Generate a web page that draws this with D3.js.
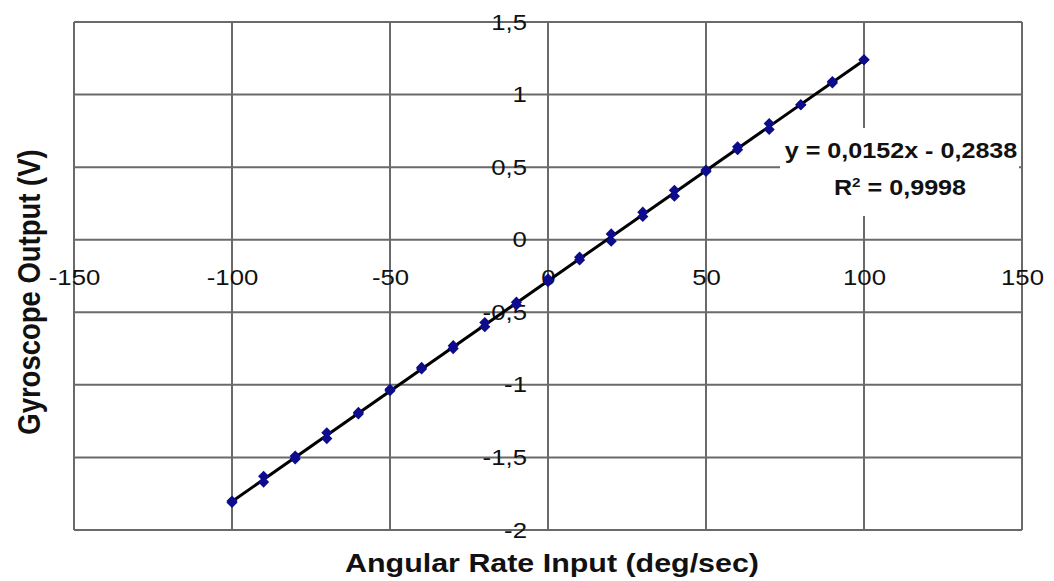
<!DOCTYPE html>
<html>
<head>
<meta charset="utf-8">
<script src="https://cdn.jsdelivr.net/npm/d3@7"></script>
<style>
  html, body { margin: 0; padding: 0; background: #fff; }
  svg text { font-family: "Liberation Sans", Arial, sans-serif; fill: #111; }
</style>
</head>
<body>
<svg id="chart"></svg>
<script>
// angular rate (deg/sec) and gyro output (V), two passes
const rates = [-100, -90, -80, -70, -60, -50, -40, -30, -20, -10, 0, 10, 20, 30, 40, 50, 60, 70, 80, 90, 100];
const runUp = [-1.80, -1.63, -1.49, -1.33, -1.19, -1.03, -0.88, -0.73, -0.57, -0.43, -0.27, -0.12, 0.04, 0.19, 0.34, 0.48, 0.64, 0.80, 0.93, 1.09, 1.24];
const runDown = [-1.81, -1.67, -1.51, -1.37, -1.20, -1.04, -0.89, -0.75, -0.60, -0.45, -0.29, -0.14, -0.01, 0.16, 0.30, 0.47, 0.62, 0.76, 0.93, 1.08, 1.24];

const xTicks = [-150, -100, -50, 0, 50, 100, 150];
const yTicks = [-2, -1.5, -1, -0.5, 0, 0.5, 1, 1.5];

const slope = 0.0152, intercept = -0.2838;
const fitLines = ["y = 0,0152x - 0,2838", "0,9998"];

const width = 1054, height = 581;
const plotLeft = 74, plotRight = 1022, plotTop = 22, plotBottom = 530;
const stretch = 1.17;  // source picture is stretched sideways

const svg = d3.select("#chart")
    .attr("width", width)
    .attr("height", height);

const x = d3.scaleLinear().domain([-150, 150]).range([plotLeft, plotRight]);
const y = d3.scaleLinear().domain([-2, 1.5]).range([plotBottom, plotTop]);

const locale = d3.formatLocale({decimal: ",", thousands: ".", grouping: [3], currency: ["", ""], minus: "-"});
const fmt = locale.format("~g");

const gridColor = "#6a6a6a";

// gridlines
svg.append("g")
    .selectAll("line")
    .data(xTicks)
    .join("line")
    .attr("x1", d => x(d)).attr("x2", d => x(d))
    .attr("y1", plotTop).attr("y2", plotBottom)
    .attr("stroke", gridColor).attr("stroke-width", 2);

svg.append("g")
    .selectAll("line")
    .data(yTicks)
    .join("line")
    .attr("x1", plotLeft).attr("x2", plotRight)
    .attr("y1", d => y(d)).attr("y2", d => y(d))
    .attr("stroke", gridColor).attr("stroke-width", 2);

// white box behind the equation label
svg.append("rect")
    .attr("x", 780).attr("y", 128)
    .attr("width", 239).attr("height", 88)
    .attr("fill", "#fff");

// x axis labels sit under the y=0 line
const xAxis = svg.append("g")
    .attr("transform", `translate(0,${y(0)})`)
    .call(d3.axisBottom(x).tickValues(xTicks).tickSize(0).tickPadding(30).tickFormat(fmt));
xAxis.select(".domain").remove();
xAxis.selectAll("text")
    .attr("font-size", 22)
    .attr("font-family", "Liberation Sans, Arial, sans-serif")
    .attr("fill", "#111")
    .attr("transform", `scale(${stretch},1)`);

// y axis labels left of x=0 line
const yAxis = svg.append("g")
    .attr("transform", `translate(${x(0)},0)`)
    .call(d3.axisLeft(y).tickValues(yTicks).tickSize(0).tickPadding(18).tickFormat(fmt));
yAxis.select(".domain").remove();
yAxis.selectAll("text")
    .attr("font-size", 22)
    .attr("font-family", "Liberation Sans, Arial, sans-serif")
    .attr("fill", "#111")
    .attr("transform", `scale(${stretch},1)`);

// trendline
svg.append("line")
    .attr("x1", x(-100)).attr("y1", y(slope * -100 + intercept))
    .attr("x2", x(100)).attr("y2", y(slope * 100 + intercept))
    .attr("stroke", "#000").attr("stroke-width", 3);

// markers
const diamond = d3.symbol(d3.symbolSquare, 62);
const pts = rates.flatMap((r, i) => [{r, v: runUp[i]}, {r, v: runDown[i]}]);
svg.append("g")
    .selectAll("path")
    .data(pts)
    .join("path")
    .attr("d", diamond)
    .attr("transform", d => `translate(${x(d.r)},${y(d.v)}) rotate(45)`)
    .attr("fill", "#0c0c8c");

// equation label
const eq = svg.append("g").attr("font-weight", "bold").attr("font-size", 21.5);
eq.append("text")
    .attr("transform", `translate(901,158) scale(${stretch},1)`)
    .attr("text-anchor", "middle")
    .text(fitLines[0]);
const r2 = eq.append("text")
    .attr("transform", `translate(900,195) scale(${stretch},1)`)
    .attr("text-anchor", "middle");
r2.append("tspan").text("R");
r2.append("tspan").attr("font-size", 13).attr("dy", -8).text("2");
r2.append("tspan").attr("dy", 8).text(" = " + fitLines[1]);

// axis titles
svg.append("text")
    .attr("transform", `translate(552,572) scale(${stretch},1)`)
    .attr("text-anchor", "middle")
    .attr("font-weight", "bold")
    .attr("font-size", 26)
    .text("Angular Rate Input (deg/sec)");

svg.append("text")
    .attr("transform", `translate(40,292) scale(${stretch},1) rotate(-90)`)
    .attr("text-anchor", "middle")
    .attr("font-weight", "bold")
    .attr("font-size", 27.5)
    .text("Gyroscope Output (V)");
</script>
</body>
</html>
